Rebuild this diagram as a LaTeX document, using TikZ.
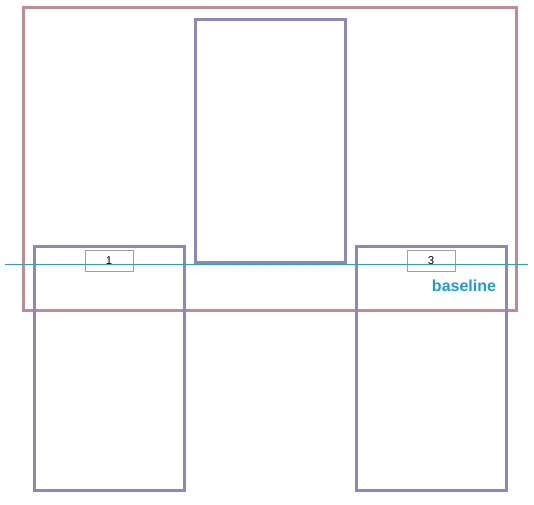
\documentclass[tikz,border=0pt]{standalone}
\usepackage{fontspec}
\setmainfont{Liberation Sans}
\definecolor{outerc}{RGB}{192,140,146}
\definecolor{boxc}{RGB}{140,136,186}
\definecolor{basec}{RGB}{40,160,200}
\definecolor{labc}{RGB}{30,155,210}
\definecolor{tagc}{RGB}{160,160,160}
\begin{document}
\begin{tikzpicture}[x=0.75pt,y=-0.75pt,
  outerbox/.style={draw=outerc,line width=2.25pt},
  itembox/.style={draw=boxc,line width=2.25pt},
  tagbox/.style={draw=tagc,line width=0.6pt,minimum width=36pt,minimum height=15.75pt,inner sep=0pt,font=\fontsize{8.5}{10}\selectfont},
  baseln/.style={draw=basec,line width=0.75pt},
  lbl/.style={text=labc,font=\bfseries\fontsize{12}{14}\selectfont,inner sep=0pt}]
\useasboundingbox (0,0) rectangle (534,505);
\draw[outerbox] (23,8) rectangle (516,310);
\draw[itembox] (195,20) rectangle (345,263);
\draw[itembox] (34,247) rectangle (184,490);
\draw[itembox] (356,247) rectangle (506,490);
\node[tagbox] (t1) at (109,260.5) {1};
\node[tagbox] (t3) at (431,260.5) {3};
\coordinate (bl) at (5,264.5);
\coordinate (br) at (528,264.5);
\draw[baseln] (bl) -- (br);
\node[lbl] (bt) at (464,286) {baseline};
\end{tikzpicture}
\end{document}
